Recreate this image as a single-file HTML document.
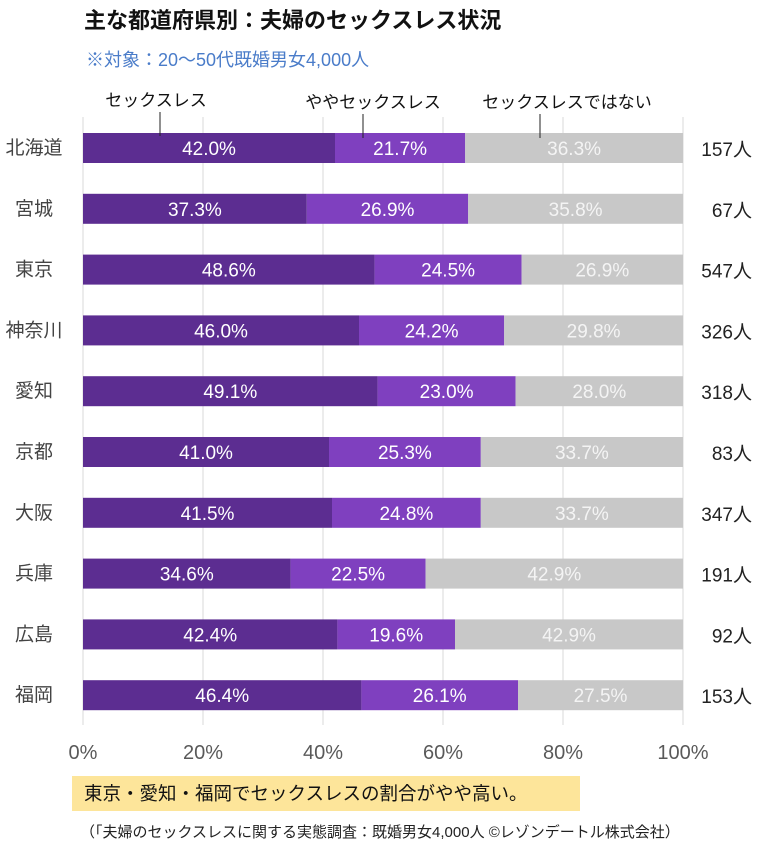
<!DOCTYPE html>
<html><head><meta charset="utf-8"><style>
body{margin:0;background:#fff;width:759px;height:848px;overflow:hidden;font-family:"Liberation Sans","Noto Sans CJK JP",sans-serif}
</style></head><body>
<svg id="c" width="759" height="848" xmlns="http://www.w3.org/2000/svg" font-family="Liberation Sans, Noto Sans CJK JP, sans-serif">
<text x="84" y="28" font-size="22" font-weight="bold" fill="#111">主な都道府県別：夫婦のセックスレス状況</text>
<text x="86" y="66" font-size="18" fill="#4a7cc9">※対象：20～50代既婚男女4,000人</text>
<g id="grid"></g>
<g id="bars"></g>
<g id="legend">
<text x="156" y="106" font-size="17" text-anchor="middle" fill="#111">セックスレス</text>
<line x1="160" y1="112" x2="160" y2="136" stroke="#222"/>
<text x="373" y="108" font-size="17" text-anchor="middle" fill="#111">ややセックスレス</text>
<line x1="363" y1="114" x2="363" y2="138" stroke="#222"/>
<text x="567" y="108" font-size="17" text-anchor="middle" fill="#111">セックスレスではない</text>
<line x1="540" y1="114" x2="540" y2="138" stroke="#222"/>
</g>
<rect x="72" y="776" width="508" height="35" fill="#fde59a"/>
<text x="84" y="800" font-size="18.5" fill="#111">東京・愛知・福岡でセックスレスの割合がやや高い。</text>
<text x="80" y="837" font-size="15" fill="#222">（「夫婦のセックスレスに関する実態調査：既婚男女4,000人 ©レゾンデートル株式会社）</text>
</svg>
<script>
const prefectures=["北海道","宮城","東京","神奈川","愛知","京都","大阪","兵庫","広島","福岡"];
const sexless=[42.0,37.3,48.6,46.0,49.1,41.0,41.5,34.6,42.4,46.4];
const somewhat=[21.7,26.9,24.5,24.2,23.0,25.3,24.8,22.5,19.6,26.1];
const notSexless=[36.3,35.8,26.9,29.8,28.0,33.7,33.7,42.9,42.9,27.5];
const counts=["157人","67人","547人","326人","318人","83人","347人","191人","92人","153人"];
const ticks=[0,20,40,60,80,100];
const NS="http://www.w3.org/2000/svg";
const x=v=>83+Math.min(v,100)*6;
const y=i=>133+i*60.8;
const BH=30;
function mk(tag,attrs,parent,txt){const e=document.createElementNS(NS,tag);for(const k in attrs)e.setAttribute(k,attrs[k]);if(txt!==undefined)e.textContent=txt;parent.appendChild(e);return e;}
const grid=document.getElementById('grid'),bars=document.getElementById('bars');
ticks.forEach(t=>{
 const l=mk('line',{x1:x(t),x2:x(t),y1:117,y2:725,stroke:'#d9d9d9'},grid);
 
 
 const tx=mk('text',{x:x(t),y:759,'font-size':20,'text-anchor':'middle',fill:'#595959'},grid,t+'%');
 
 
});
const cols=['#5c2d91','#7f40bf','#c8c8c8'];
prefectures.forEach((p,i)=>{
 const vals=[sexless[i],somewhat[i],notSexless[i]];
 let acc=0;
 vals.forEach((v,k)=>{
  const a=acc,b=acc+v;
  const r=mk('rect',{x:x(a),y:y(i),width:Math.max(0,x(b)-x(a)),height:BH,fill:cols[k]},bars);
  
  
  const t=mk('text',{x:(x(a)+x(b))/2,y:y(i)+22,'font-size':19,'text-anchor':'middle',fill:k==2?'#f4f4f4':'#fff'},bars,v.toFixed(1)+'%');
  
  
  acc+=v;
 });
 const pl=mk('text',{x:34,y:y(i)+21,'font-size':19,'text-anchor':'middle',fill:'#444'},bars,p);
 
 
 const cl=mk('text',{x:752,y:y(i)+23,'font-size':19,'text-anchor':'end',fill:'#222'},bars,counts[i]);
 
 
});
</script>
</body></html>
